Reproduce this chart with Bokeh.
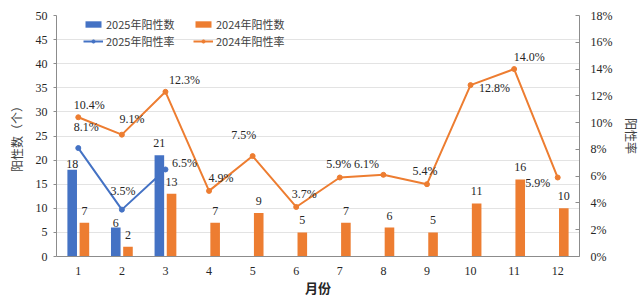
import math
from bokeh.plotting import figure
from bokeh.models import (ColumnDataSource, FactorRange, Range1d, LinearAxis, NumeralTickFormatter,
                          Legend, LegendItem, LabelSet, SingleIntervalTicker)
from bokeh.transform import dodge
from bokeh.embed import file_html
from bokeh.resources import INLINE

months = [str(i) for i in range(1, 13)]
months_2025 = ["1", "2", "3"]
count_2025 = [18, 6, 21]
count_2024 = [7, 2, 13, 7, 9, 5, 7, 6, 5, 11, 16, 10]
rate_2025 = [8.1, 3.5, 6.5]
rate_2024 = [10.4, 9.1, 12.3, 4.9, 7.5, 3.7, 5.9, 6.1, 5.4, 12.8, 14.0, 5.9]

# label placement styles (screen px)
rate24_dx = [11, 10, 19, 12, -9, 8, -1, -17, -2, 24, 15, -20]
rate24_dy = [12, 16, 12, 13, 21, 13, 14, 11, 13, -3, 12, -5]
rate25_dx = [8, 1, 19]
rate25_dy = [21, 19, 6]
cnt25_dy = [6, 5, 12]
cnt24_dy = [12] * 12

BLUE = "#4472C4"
ORANGE = "#ED7D31"
NUMFONT = "Liberation Serif"
CJK = "Noto Sans CJK SC"

src25 = ColumnDataSource(dict(m=months_2025, c=count_2025, r=[v / 100 for v in rate_2025],
                              rl=[f"{v:.1f}%" for v in rate_2025], cl=[str(v) for v in count_2025],
                              dx=rate25_dx, dy=rate25_dy, cdy=cnt25_dy))
src24 = ColumnDataSource(dict(m=months, c=count_2024, r=[v / 100 for v in rate_2024],
                              rl=[f"{v:.1f}%" for v in rate_2024], cl=[str(v) for v in count_2024],
                              dx=rate24_dx, dy=rate24_dy, cdy=cnt24_dy))

p = figure(width=643, height=299, x_range=FactorRange(*months, range_padding=0),
           y_range=Range1d(0, 50), output_backend="svg", toolbar_location=None,
           min_border_left=56, min_border_right=57, min_border_top=15, min_border_bottom=43)
p.outline_line_color = None
p.background_fill_color = "white"
p.border_fill_color = "white"
p.extra_y_ranges = {"rate": Range1d(0, 0.18)}

b25 = p.vbar(x=dodge("m", -0.14, range=p.x_range), top="c", width=0.22, source=src25,
             fill_color=BLUE, line_color=None)
b24 = p.vbar(x=dodge("m", 0.14, range=p.x_range), top="c", width=0.22, source=src24,
             fill_color=ORANGE, line_color=None)

l25 = p.line(x="m", y="r", source=src25, y_range_name="rate", line_color=BLUE, line_width=2)
s25 = p.scatter(x="m", y="r", source=src25, y_range_name="rate", size=5, fill_color=BLUE, line_color=BLUE)
l24 = p.line(x="m", y="r", source=src24, y_range_name="rate", line_color=ORANGE, line_width=2)
s24 = p.scatter(x="m", y="r", source=src24, y_range_name="rate", size=5, fill_color=ORANGE, line_color=ORANGE)

lab_kw = dict(text_font=NUMFONT, text_font_size="12px", text_color="#262626",
              text_align="center", text_baseline="middle")
p.add_layout(LabelSet(x=dodge("m", -0.14, range=p.x_range), y="c", text="cl", y_offset="cdy",
                      source=src25, **lab_kw))
p.add_layout(LabelSet(x=dodge("m", 0.14, range=p.x_range), y="c", text="cl", y_offset="cdy",
                      source=src24, **lab_kw))
p.add_layout(LabelSet(x="m", y="r", y_range_name="rate", text="rl", x_offset="dx", y_offset="dy",
                      source=src25, **lab_kw))
p.add_layout(LabelSet(x="m", y="r", y_range_name="rate", text="rl", x_offset="dx", y_offset="dy",
                      source=src24, **lab_kw))

# axes
p.xgrid.grid_line_color = None
p.ygrid.grid_line_color = "#e3e3e3"
p.ygrid.ticker = SingleIntervalTicker(interval=5)

ax = p.xaxis[0]
ax.axis_line_color = "#8c8c8c"
ax.major_tick_line_color = None
ax.minor_tick_line_color = None
ax.major_label_text_font = NUMFONT
ax.major_label_text_font_size = "12px"
ax.major_label_text_color = "#262626"
ax.major_label_standoff = 4
ax.axis_label = "月份"
ax.axis_label_text_font = CJK
ax.axis_label_text_font_style = "bold"
ax.axis_label_text_font_size = "13px"
ax.axis_label_text_color = "#262626"
ax.axis_label_standoff = 0

ay = p.yaxis[0]
ay.ticker = SingleIntervalTicker(interval=5)
ay.axis_line_color = "#8c8c8c"
ay.major_tick_line_color = "#8c8c8c"
ay.major_tick_out = 3
ay.major_tick_in = 0
ay.minor_tick_line_color = None
ay.major_label_text_font = NUMFONT
ay.major_label_text_font_size = "12px"
ay.major_label_text_color = "#262626"
ay.major_label_standoff = 5
ay.axis_label = "阳性数（个）"
ay.axis_label_text_font = CJK
ay.axis_label_text_font_style = "normal"
ay.axis_label_text_font_size = "12px"
ay.axis_label_text_color = "#404040"
ay.axis_label_standoff = 8

ar = LinearAxis(y_range_name="rate", ticker=SingleIntervalTicker(interval=0.02),
                formatter=NumeralTickFormatter(format="0%"))
ar.axis_line_color = "#8c8c8c"
ar.major_tick_line_color = "#8c8c8c"
ar.major_tick_out = 0
ar.major_tick_in = 4
ar.minor_tick_line_color = None
ar.major_label_text_font = NUMFONT
ar.major_label_text_font_size = "12px"
ar.major_label_text_color = "#262626"
ar.major_label_standoff = 7
ar.axis_label = "阳性率"
ar.axis_label_text_font = CJK
ar.axis_label_text_font_style = "normal"
ar.axis_label_text_font_size = "12px"
ar.axis_label_text_color = "#404040"
ar.axis_label_standoff = 8
try:
    ar.axis_label_orientation = "vertical"
except Exception:
    pass
p.add_layout(ar, "right")


def make_legend(items, x):
    lg = Legend(items=items, location=(x, 207), orientation="vertical")
    lg.background_fill_alpha = 0
    lg.border_line_color = None
    lg.padding = 0
    lg.margin = 0
    lg.spacing = 0
    lg.glyph_width = 20
    lg.glyph_height = 8
    lg.label_height = 17
    lg.label_standoff = 3
    lg.label_text_font = CJK
    lg.label_text_font_size = "11px"
    lg.label_text_color = "#404040"
    return lg


p.add_layout(make_legend([LegendItem(label="2025年阳性数", renderers=[b25]),
                          LegendItem(label="2025年阳性率", renderers=[l25, s25])], 27), "center")
p.add_layout(make_legend([LegendItem(label="2024年阳性数", renderers=[b24]),
                          LegendItem(label="2024年阳性率", renderers=[l24, s24])], 137), "center")

open("out.html", "w").write(file_html(p, INLINE))
